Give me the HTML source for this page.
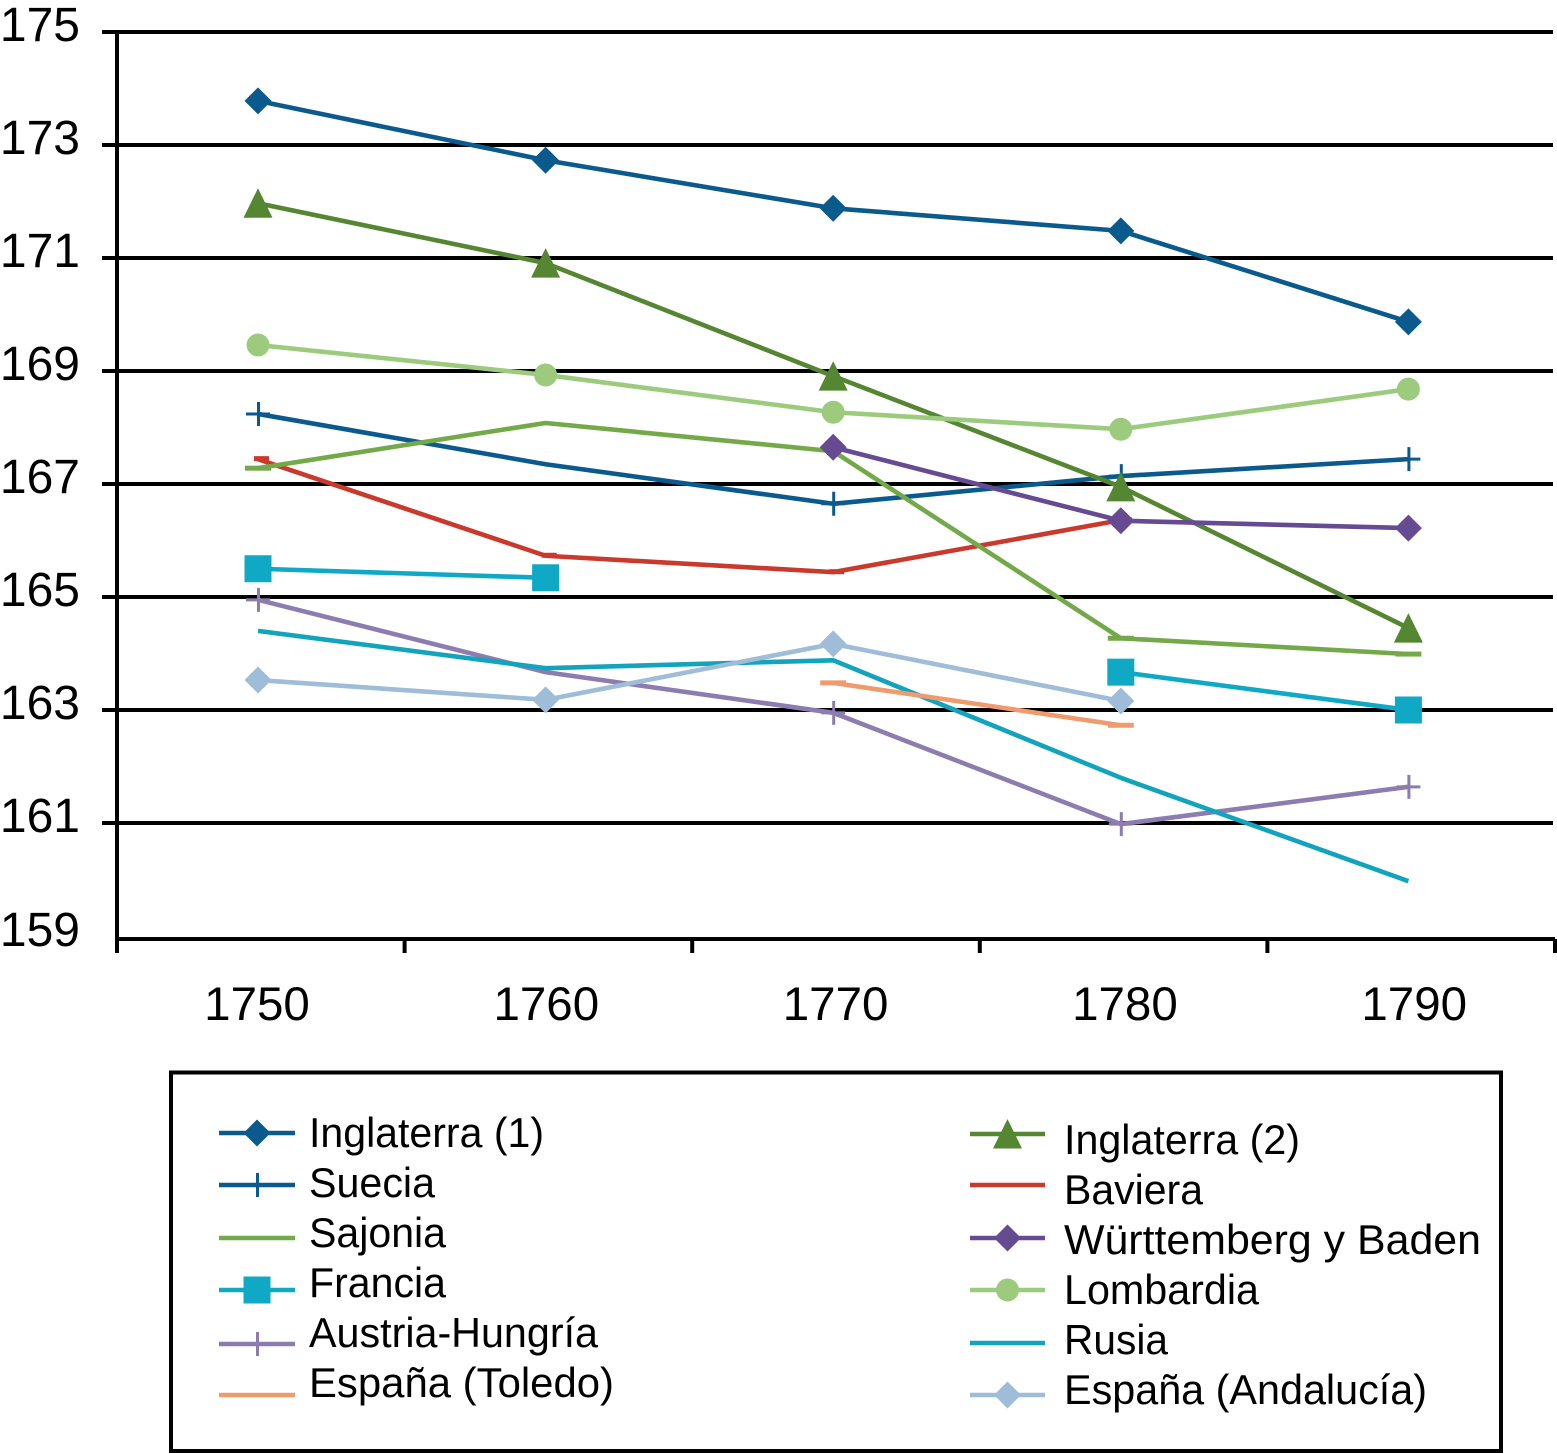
<!DOCTYPE html>
<html lang="es">
<head>
<meta charset="utf-8">
<title>Estatura por países, 1750-1790</title>
<style>
  html, body { margin: 0; padding: 0; background: #fff; }
  svg { display: block; font-family: "Liberation Sans", Arial, sans-serif; }
</style>
</head>
<body>
<svg id="chart" xmlns="http://www.w3.org/2000/svg" width="1557" height="1454" viewBox="0 0 1557 1454">
  <rect x="0" y="0" width="1557" height="1454" fill="#ffffff"/>
  <g id="grid"></g>
  <g id="axes"></g>
  <g id="series"></g>
  <rect x="171" y="1072.5" width="1330" height="378.5" fill="none" stroke="#000" stroke-width="4"/>
  <g id="legend"></g>
</svg>
<script>
const years = [1750, 1760, 1770, 1780, 1790];
const yTicks = [175, 173, 171, 169, 167, 165, 163, 161, 159];

const inglaterra1 = [173.78, 172.73, 171.88, 171.48, 169.87];
const suecia = [168.24, 167.35, 166.65, 167.14, 167.44];
const sajonia = [167.28, 168.08, 167.58, 164.27, 163.99];
const francia = [165.5, 165.34, null, 163.67, 163.0];
const austriaHungria = [164.95, 163.67, 162.95, 160.98, 161.64];
const espanaToledo = [null, null, 163.48, 162.73, null];
const inglaterra2 = [171.97, 170.91, 168.91, 166.95, 164.45];
const baviera = [167.44, 165.73, 165.44, 166.36, null];
const wurttemberg = [null, null, 167.65, 166.35, 166.22];
const lombardia = [169.46, 168.93, 168.27, 167.97, 168.68];
const rusia = [164.4, 163.74, 163.88, 161.8, 159.97];
const espanaAndalucia = [163.53, 163.18, 164.17, 163.16, null];

const seriesList = [
  { name: 'Inglaterra (1)', slug: 'inglaterra-1', values: inglaterra1, color: '#0b5a8e', marker: 'diamond' },
  { name: 'Suecia', slug: 'suecia', values: suecia, color: '#0b5a8e', marker: 'plus', noMarker: [1760] },
  { name: 'Baviera', slug: 'baviera', values: baviera, color: '#c9392c', marker: 'smalldash' },
  { name: 'Sajonia', slug: 'sajonia', values: sajonia, color: '#74a94a', marker: 'dash', noMarker: [1760, 1770] },
  { name: 'Francia', slug: 'francia', values: francia, color: '#0fa9c6', marker: 'square' },
  { name: 'Austria-Hungría', slug: 'austria-hungria', values: austriaHungria, color: '#8d7cb0', marker: 'plus', noMarker: [1760] },
  { name: 'Rusia', slug: 'rusia', values: rusia, color: '#12a3bd', marker: 'none' },
  { name: 'España (Toledo)', slug: 'espana-toledo', values: espanaToledo, color: '#ee9b6e', marker: 'dash' },
  { name: 'Inglaterra (2)', slug: 'inglaterra-2', values: inglaterra2, color: '#558632', marker: 'triangle' },
  { name: 'Württemberg y Baden', slug: 'wurttemberg-baden', values: wurttemberg, color: '#674b92', marker: 'diamond' },
  { name: 'Lombardia', slug: 'lombardia', values: lombardia, color: '#9ccb7e', marker: 'circle' },
  { name: 'España (Andalucía)', slug: 'espana-andalucia', values: espanaAndalucia, color: '#9fbcd9', marker: 'diamond' }
];

const legendLeft = ['Inglaterra (1)', 'Suecia', 'Sajonia', 'Francia', 'Austria-Hungría', 'España (Toledo)'];
const legendRight = ['Inglaterra (2)', 'Baviera', 'Württemberg y Baden', 'Lombardia', 'Rusia', 'España (Andalucía)'];

const NS = 'http://www.w3.org/2000/svg';
const yScale = v => 32 + (175 - v) * 56.5;
const xScale = year => 258 + (year - 1750) * 28.76;
const axisBottom = 939;
const lineWidth = 4.6;

function make(tag, attrs, parent) {
  const el = document.createElementNS(NS, tag);
  for (const k in attrs) el.setAttribute(k, attrs[k]);
  parent.appendChild(el);
  return el;
}

function drawMarker(type, x, y, color, parent, name) {
  let el = null;
  if (type === 'diamond') {
    el = make('polygon', { points: [x, y - 13.5, x + 13.5, y, x, y + 13.5, x - 13.5, y].join(','), fill: color }, parent);
  } else if (type === 'square') {
    el = make('rect', { x: x - 13.5, y: y - 13.5, width: 27, height: 27, fill: color }, parent);
  } else if (type === 'triangle') {
    el = make('polygon', { points: [x, y - 15, x + 14.5, y + 14.5, x - 14.5, y + 14.5].join(','), fill: color }, parent);
  } else if (type === 'circle') {
    el = make('circle', { cx: x, cy: y, r: 11.5, fill: color }, parent);
  } else if (type === 'plus') {
    el = make('path', { d: 'M' + (x - 12) + ' ' + y + 'H' + (x + 12) + 'M' + (x + 0.5) + ' ' + (y - 12) + 'V' + (y + 12), stroke: color, 'stroke-width': 3, fill: 'none' }, parent);
  } else if (type === 'dash') {
    el = make('rect', { x: x - 13, y: y - 2.5, width: 26, height: 5, fill: color }, parent);
  } else if (type === 'smalldash') {
    el = make('rect', { x: x - 4, y: y - 3, width: 15, height: 5, fill: color }, parent);
  }
  if (el) {
    
    
  }
}

/* gridlines and y tick labels */
const gridGroup = document.getElementById('grid');
const axesGroup = document.getElementById('axes');
yTicks.forEach(t => {
  const y = yScale(t);
  if (t !== 159) {
    const line = make('line', { x1: 102, x2: 1553, y1: y, y2: y, stroke: '#000', 'stroke-width': 4 }, gridGroup);
    
    
  }
  const label = make('text', { x: 80, y: (t === 159 ? axisBottom + 7 : y + 9), 'text-anchor': 'end', 'font-size': 48, fill: '#000' }, axesGroup);
  label.textContent = t;
  
  
});

/* axis lines */
const yAxis = make('line', { x1: 117, x2: 117, y1: 32, y2: axisBottom + 14, stroke: '#000', 'stroke-width': 4 }, axesGroup);


const xAxis = make('line', { x1: 117, x2: 1555, y1: axisBottom, y2: axisBottom, stroke: '#000', 'stroke-width': 4 }, axesGroup);



/* x ticks at category band edges and labels */
for (let i = 1; i <= years.length; i++) {
  const tx = 117 + i * 287.6;
  const tick = make('line', { x1: tx, x2: tx, y1: axisBottom, y2: axisBottom + 14, stroke: '#000', 'stroke-width': 4 }, axesGroup);
  
  
}
years.forEach((yr, i) => {
  const label = make('text', { x: xScale(yr) + i * 1.7 - 1, y: 1020, 'text-anchor': 'middle', 'font-size': 47.5, fill: '#000' }, axesGroup);
  label.textContent = yr;
  
  
});

/* series */
const seriesGroup = document.getElementById('series');
seriesList.forEach(s => {
  const g = make('g', {}, seriesGroup);
  
  

  let segment = [];
  const segments = [];
  s.values.forEach((v, i) => {
    if (v === null) {
      if (segment.length) segments.push(segment);
      segment = [];
    } else {
      segment.push([xScale(years[i]), yScale(v)]);
    }
  });
  if (segment.length) segments.push(segment);

  segments.forEach(pts => {
    const line = make('polyline', { points: pts.map(p => p.join(',')).join(' '), fill: 'none', stroke: s.color, 'stroke-width': lineWidth, 'stroke-linejoin': 'round' }, g);
    
    
  });

  s.values.forEach((v, i) => {
    if (v === null) return;
    if (s.noMarker && s.noMarker.includes(years[i])) return;
    drawMarker(s.marker, xScale(years[i]), yScale(v), s.color, g, 'point-' + s.slug + '-' + years[i]);
  });
});

/* legend */
const legendGroup = document.getElementById('legend');
const findSeries = name => seriesList.find(s => s.name === name);
const legendLeftWidths = [235, 126, 137, 137, 289, 305];
const legendRightWidths = [236, 139, 417, 195, 104, 363];

function drawLegendColumn(names, widths, lineX1, lineX2, textX, lineYs, textYs) {
  names.forEach((name, i) => {
    const s = findSeries(name);
    const g = make('g', {}, legendGroup);
    
    
    const line = make('line', { x1: lineX1, x2: lineX2, y1: lineYs[i], y2: lineYs[i], stroke: s.color, 'stroke-width': lineWidth }, g);
    
    
    if (s.marker !== 'dash' && s.marker !== 'smalldash') {
      drawMarker(s.marker, (lineX1 + lineX2) / 2, lineYs[i], s.color, g, 'legend-marker-' + s.slug);
    }
    const text = make('text', { x: textX, y: textYs[i], 'font-size': 41.5, fill: '#000', textLength: widths[i], lengthAdjust: 'spacingAndGlyphs' }, g);
    text.textContent = name;
    
    
  });
}

drawLegendColumn(legendLeft, legendLeftWidths, 219, 295, 309,
  [1133, 1185, 1238, 1290, 1344, 1395],
  [1147, 1197, 1247, 1297, 1347, 1397]);
drawLegendColumn(legendRight, legendRightWidths, 970, 1045, 1064,
  [1134, 1185, 1238, 1290, 1343, 1395],
  [1154, 1204, 1254, 1304, 1354, 1404]);
</script>
</body>
</html>
